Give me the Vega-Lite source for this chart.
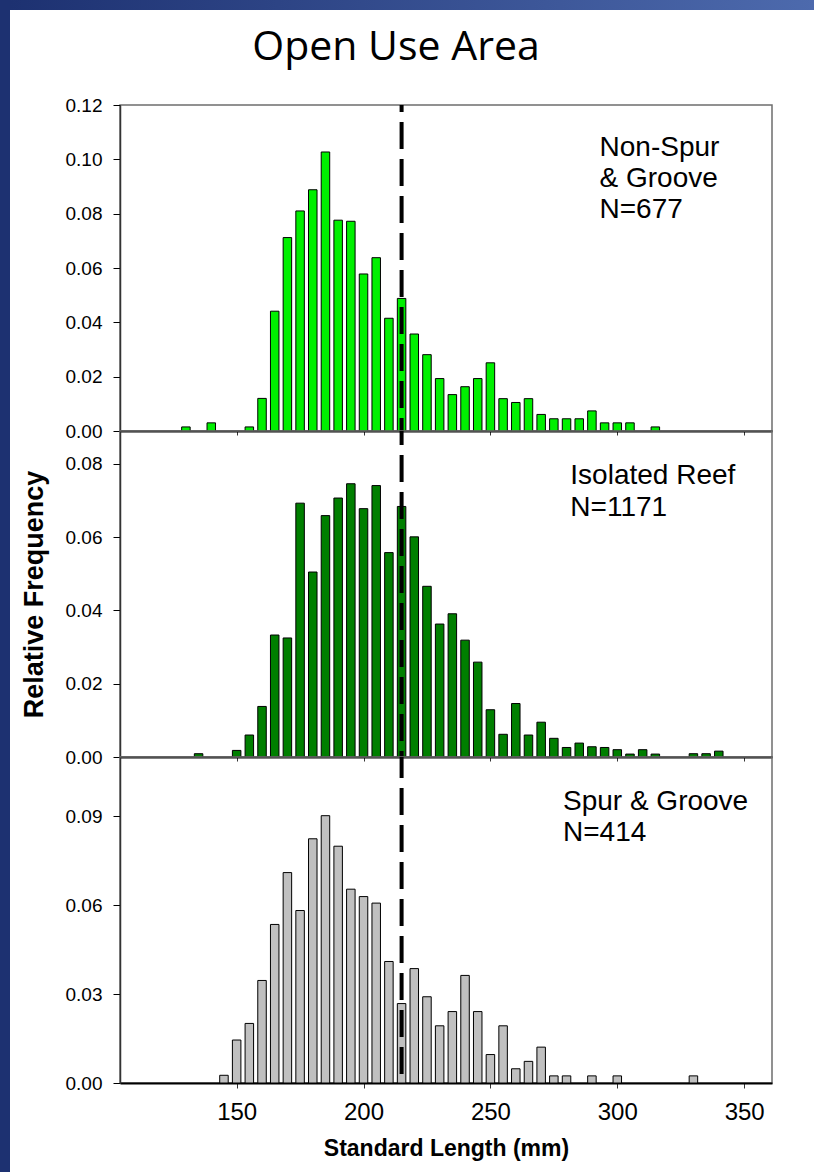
{
  "$schema": "https://vega.github.io/schema/vega-lite/v6.json",
  "padding": 0,
  "background": "white",
  "spacing": 0,
  "datasets": {
    "ns": [
      {"length": 130, "freq": 0.0015}, {"length": 140, "freq": 0.0030}, {"length": 155, "freq": 0.0015},
      {"length": 160, "freq": 0.0120}, {"length": 165, "freq": 0.0441}, {"length": 170, "freq": 0.0712},
      {"length": 175, "freq": 0.0810}, {"length": 180, "freq": 0.0888}, {"length": 185, "freq": 0.1027},
      {"length": 190, "freq": 0.0776}, {"length": 195, "freq": 0.0772}, {"length": 200, "freq": 0.0578},
      {"length": 205, "freq": 0.0638}, {"length": 210, "freq": 0.0415}, {"length": 215, "freq": 0.0488},
      {"length": 220, "freq": 0.0357}, {"length": 225, "freq": 0.0281}, {"length": 230, "freq": 0.0193},
      {"length": 235, "freq": 0.0134}, {"length": 240, "freq": 0.0163}, {"length": 245, "freq": 0.0193},
      {"length": 250, "freq": 0.0251}, {"length": 255, "freq": 0.0119}, {"length": 260, "freq": 0.0105},
      {"length": 265, "freq": 0.0119}, {"length": 270, "freq": 0.0061}, {"length": 275, "freq": 0.0045},
      {"length": 280, "freq": 0.0045}, {"length": 285, "freq": 0.0045}, {"length": 290, "freq": 0.0074},
      {"length": 295, "freq": 0.0030}, {"length": 300, "freq": 0.0030}, {"length": 305, "freq": 0.0030},
      {"length": 315, "freq": 0.0015}
    ],
    "ir": [
      {"length": 135, "freq": 0.0009}, {"length": 150, "freq": 0.0018}, {"length": 155, "freq": 0.0060},
      {"length": 160, "freq": 0.0138}, {"length": 165, "freq": 0.0333}, {"length": 170, "freq": 0.0325},
      {"length": 175, "freq": 0.0693}, {"length": 180, "freq": 0.0505}, {"length": 185, "freq": 0.0659},
      {"length": 190, "freq": 0.0707}, {"length": 195, "freq": 0.0746}, {"length": 200, "freq": 0.0678},
      {"length": 205, "freq": 0.0741}, {"length": 210, "freq": 0.0558}, {"length": 215, "freq": 0.0684},
      {"length": 220, "freq": 0.0601}, {"length": 225, "freq": 0.0466}, {"length": 230, "freq": 0.0363},
      {"length": 235, "freq": 0.0391}, {"length": 240, "freq": 0.0319}, {"length": 245, "freq": 0.0259},
      {"length": 250, "freq": 0.0129}, {"length": 255, "freq": 0.0062}, {"length": 260, "freq": 0.0146},
      {"length": 265, "freq": 0.0060}, {"length": 270, "freq": 0.0095}, {"length": 275, "freq": 0.0051},
      {"length": 280, "freq": 0.0026}, {"length": 285, "freq": 0.0038}, {"length": 290, "freq": 0.0028},
      {"length": 295, "freq": 0.0026}, {"length": 300, "freq": 0.0020}, {"length": 305, "freq": 0.0008},
      {"length": 310, "freq": 0.0020}, {"length": 315, "freq": 0.0008}, {"length": 330, "freq": 0.0009},
      {"length": 335, "freq": 0.0009}, {"length": 340, "freq": 0.0016}
    ],
    "sg": [
      {"length": 145, "freq": 0.0026}, {"length": 150, "freq": 0.0145}, {"length": 155, "freq": 0.0201},
      {"length": 160, "freq": 0.0346}, {"length": 165, "freq": 0.0535}, {"length": 170, "freq": 0.0710},
      {"length": 175, "freq": 0.0582}, {"length": 180, "freq": 0.0824}, {"length": 185, "freq": 0.0902},
      {"length": 190, "freq": 0.0799}, {"length": 195, "freq": 0.0654}, {"length": 200, "freq": 0.0629},
      {"length": 205, "freq": 0.0607}, {"length": 210, "freq": 0.0410}, {"length": 215, "freq": 0.0268},
      {"length": 220, "freq": 0.0386}, {"length": 225, "freq": 0.0291}, {"length": 230, "freq": 0.0193},
      {"length": 235, "freq": 0.0241}, {"length": 240, "freq": 0.0363}, {"length": 245, "freq": 0.0241},
      {"length": 250, "freq": 0.0096}, {"length": 255, "freq": 0.0193}, {"length": 260, "freq": 0.0048},
      {"length": 265, "freq": 0.0073}, {"length": 270, "freq": 0.0121}, {"length": 275, "freq": 0.0024},
      {"length": 280, "freq": 0.0024}, {"length": 290, "freq": 0.0024}, {"length": 300, "freq": 0.0024},
      {"length": 330, "freq": 0.0024}
    ],
    "cut": [{"length": 215}],
    "strip": [{"s": 0}]
  },
  "hconcat": [
    {
      "width": 10, "height": 1172,
      "view": {"stroke": null, "fill": "#1d3171"},
      "data": {"name": "strip"},
      "mark": {"type": "rect", "opacity": 0},
      "encoding": {}
    },
    {
      "spacing": 17,
      "vconcat": [
        {
          "width": 804, "height": 10,
          "view": {"stroke": null},
          "data": {"name": "strip"},
          "mark": {"type": "rect", "color": {"gradient": "linear", "x1": 0, "y1": 0, "x2": 1, "y2": 0, "stops": [{"offset": 0, "color": "#1d3171"}, {"offset": 1, "color": "#4d6aad"}]}},
          "encoding": {
            "x": {"datum": 0, "scale": {"domain": [0, 1]}, "axis": null},
            "x2": {"datum": 1},
            "y": {"datum": 0, "scale": {"domain": [0, 1]}, "axis": null},
            "y2": {"datum": 1}
          }
        },
        {
          "spacing": 8,
          "hconcat": [
            {
              "width": 1, "height": 1,
              "view": {"stroke": null},
              "data": {"name": "strip"},
              "mark": {"type": "rect", "opacity": 0},
              "encoding": {}
            },
            {
              "title": {"text": "Open Use Area", "font": "Open Sans", "fontSize": 41, "fontWeight": "normal", "color": "black", "anchor": "middle", "offset": 26},
              "spacing": 0,
              "bounds": "flush",
              "vconcat": [
                {
                  "width": 652, "height": 326,
                  "layer": [
                    {
                      "data": {"name": "ns"},
                      "mark": {"type": "bar", "width": 8.5, "fill": "#00f000", "stroke": "black", "strokeWidth": 1},
                      "encoding": {
                        "x": {"field": "length", "type": "quantitative", "scale": {"domain": [106, 359], "nice": false, "zero": false},
                              "axis": {"values": [150, 200, 250, 300, 350], "labels": false, "title": null, "tickSize": 4}},
                        "y": {"field": "freq", "type": "quantitative", "scale": {"domain": [0, 0.12], "nice": false},
                              "axis": {"values": [0, 0.02, 0.04, 0.06, 0.08, 0.1, 0.12], "format": ".2f", "title": null}}
                      }
                    },
                    {
                      "data": {"name": "cut"},
                      "mark": {"type": "rule", "color": "black", "strokeWidth": 4, "strokeDash": [27, 10], "strokeDashOffset": 20},
                      "encoding": {"x": {"field": "length", "type": "quantitative"}}
                    },
                    {
                      "data": {"name": "cut"},
                      "mark": {"type": "text", "text": ["Non-Spur", "& Groove", "N=677"], "align": "left", "baseline": "alphabetic", "fontSize": 28, "lineHeight": 31, "color": "black"},
                      "encoding": {"x": {"datum": 293}, "y": {"datum": 0.1012}}
                    }
                  ]
                },
                {
                  "width": 652, "height": 326,
                  "layer": [
                    {
                      "data": {"name": "ir"},
                      "mark": {"type": "bar", "width": 8.5, "fill": "#007f00", "stroke": "black", "strokeWidth": 1},
                      "encoding": {
                        "x": {"field": "length", "type": "quantitative", "scale": {"domain": [106, 359], "nice": false, "zero": false},
                              "axis": {"values": [150, 200, 250, 300, 350], "labels": false, "title": null, "tickSize": 4}},
                        "y": {"field": "freq", "type": "quantitative", "scale": {"domain": [0, 0.089], "nice": false},
                              "axis": {"values": [0, 0.02, 0.04, 0.06, 0.08], "format": ".2f", "title": "Relative Frequency", "titleFontSize": 27, "titleFontWeight": "bold", "titlePadding": 17}}
                      }
                    },
                    {
                      "data": {"name": "cut"},
                      "mark": {"type": "rule", "color": "black", "strokeWidth": 4, "strokeDash": [27, 10], "strokeDashOffset": 13},
                      "encoding": {"x": {"field": "length", "type": "quantitative"}}
                    },
                    {
                      "data": {"name": "cut"},
                      "mark": {"type": "text", "text": ["Isolated Reef", "N=1171"], "align": "left", "baseline": "alphabetic", "fontSize": 28, "lineHeight": 32, "color": "black"},
                      "encoding": {"x": {"datum": 281.5}, "y": {"datum": 0.0745}}
                    }
                  ]
                },
                {
                  "width": 652, "height": 326,
                  "layer": [
                    {
                      "data": {"name": "sg"},
                      "mark": {"type": "bar", "width": 8.5, "fill": "#c0c0c0", "stroke": "black", "strokeWidth": 1},
                      "encoding": {
                        "x": {"field": "length", "type": "quantitative", "scale": {"domain": [106, 359], "nice": false, "zero": false},
                              "axis": {"values": [150, 200, 250, 300, 350], "title": "Standard Length (mm)", "tickSize": 5, "labelFontSize": 24, "labelPadding": 12, "titleFontSize": 23, "titleFontWeight": "bold", "titlePadding": 13}},
                        "y": {"field": "freq", "type": "quantitative", "scale": {"domain": [0, 0.11], "nice": false},
                              "axis": {"values": [0, 0.03, 0.06, 0.09], "format": ".2f", "title": null}}
                      }
                    },
                    {
                      "data": {"name": "cut"},
                      "mark": {"type": "rule", "color": "black", "strokeWidth": 4, "strokeDash": [27, 10], "strokeDashOffset": 6},
                      "encoding": {"x": {"field": "length", "type": "quantitative"}}
                    },
                    {
                      "data": {"name": "cut"},
                      "mark": {"type": "text", "text": ["Spur & Groove", "N=414"], "align": "left", "baseline": "alphabetic", "fontSize": 28, "lineHeight": 31, "color": "black"},
                      "encoding": {"x": {"datum": 278.6}, "y": {"datum": 0.092}}
                    }
                  ]
                }
              ]
            }
          ]
        }
      ]
    }
  ],
  "config": {
    "font": "Liberation Sans",
    "view": {"stroke": "#6e6e6e", "strokeWidth": 1.5},
    "axis": {
      "grid": false,
      "labelFont": "Liberation Sans",
      "titleFont": "Liberation Sans",
      "labelColor": "black",
      "titleColor": "black",
      "domainColor": "black",
      "tickColor": "black",
      "labelFontSize": 19,
      "labelPadding": 11
    },
    "axisY": {"tickSize": 7, "domainColor": "#333", "domainWidth": 1.5},
    "axisX": {"domainWidth": 2, "tickColor": "#333"}
  }
}
